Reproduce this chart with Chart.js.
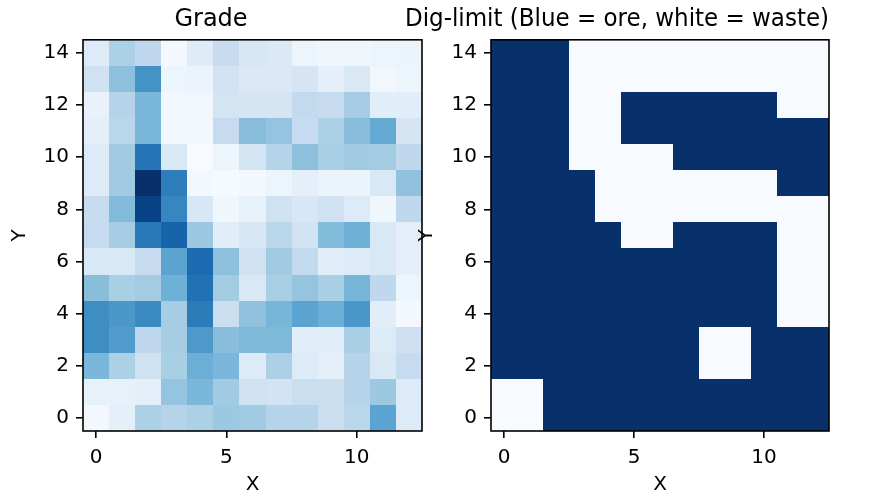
<!DOCTYPE html>
<html><head><meta charset="utf-8">
<script src="https://cdn.jsdelivr.net/npm/chart.js@4.4.1/dist/chart.umd.min.js"></script>
<style>
html,body{margin:0;padding:0;background:#fff;overflow:hidden;width:891px;height:498px;}
#wrap{position:relative;width:891px;height:498px;overflow:hidden;}
canvas{position:absolute;top:0;}
#c1{left:0;}
#c2{left:405px;}
</style></head><body>
<div id="wrap"><canvas id="c1" width="504" height="498"></canvas><canvas id="c2" width="510" height="498"></canvas></div>
<script>
// ---- data ----
const xCategories = [0,1,2,3,4,5,6,7,8,9,10,11,12];
const yCategories = [0,1,2,3,4,5,6,7,8,9,10,11,12,13,14];
const xTickLabels = [0,5,10];
const yTickLabels = [0,2,4,6,8,10,12,14];
const gradeTitle = 'Grade';
const digTitle = 'Dig-limit (Blue = ore, white = waste)';
const xAxisLabel = 'X';
const yAxisLabel = 'Y';

// grade, one row per Y value (row 0 = Y 0, bottom)
const gradeRows = [
  [0.02,0.09,0.33,0.30,0.33,0.38,0.37,0.30,0.30,0.23,0.29,0.55,0.13],
  [0.08,0.08,0.09,0.40,0.46,0.37,0.20,0.19,0.23,0.23,0.30,0.38,0.13],
  [0.46,0.33,0.20,0.34,0.50,0.46,0.13,0.33,0.13,0.09,0.30,0.15,0.25],
  [0.64,0.58,0.27,0.35,0.59,0.43,0.45,0.45,0.11,0.11,0.34,0.13,0.21],
  [0.64,0.60,0.65,0.35,0.71,0.23,0.41,0.47,0.55,0.50,0.60,0.11,0.02],
  [0.43,0.34,0.36,0.49,0.75,0.36,0.15,0.34,0.40,0.34,0.47,0.27,0.05],
  [0.15,0.15,0.25,0.55,0.77,0.42,0.20,0.37,0.26,0.11,0.13,0.15,0.09],
  [0.25,0.35,0.72,0.80,0.38,0.11,0.16,0.29,0.19,0.44,0.49,0.15,0.10],
  [0.24,0.44,0.93,0.67,0.16,0.04,0.08,0.20,0.16,0.20,0.13,0.04,0.27],
  [0.13,0.37,1.00,0.70,0.02,0.01,0.02,0.05,0.09,0.06,0.06,0.15,0.41],
  [0.13,0.37,0.74,0.15,0.00,0.05,0.18,0.30,0.42,0.34,0.37,0.36,0.27],
  [0.09,0.29,0.46,0.03,0.03,0.25,0.43,0.40,0.25,0.33,0.43,0.52,0.17],
  [0.07,0.30,0.46,0.03,0.03,0.18,0.17,0.17,0.26,0.25,0.35,0.11,0.11],
  [0.20,0.42,0.62,0.05,0.06,0.19,0.14,0.14,0.17,0.09,0.15,0.03,0.05],
  [0.13,0.33,0.27,0.02,0.12,0.24,0.16,0.14,0.05,0.04,0.04,0.05,0.06]
];

// dig-limit, 1 = ore, 0 = waste (row 0 = Y 0)
const digRows = [
  [0,0,1,1,1,1,1,1,1,1,1,1,1],
  [0,0,1,1,1,1,1,1,1,1,1,1,1],
  [1,1,1,1,1,1,1,1,0,0,1,1,1],
  [1,1,1,1,1,1,1,1,0,0,1,1,1],
  [1,1,1,1,1,1,1,1,1,1,1,0,0],
  [1,1,1,1,1,1,1,1,1,1,1,0,0],
  [1,1,1,1,1,1,1,1,1,1,1,0,0],
  [1,1,1,1,1,0,0,1,1,1,1,0,0],
  [1,1,1,1,0,0,0,0,0,0,0,0,0],
  [1,1,1,1,0,0,0,0,0,0,0,1,1],
  [1,1,1,0,0,0,0,1,1,1,1,1,1],
  [1,1,1,0,0,1,1,1,1,1,1,1,1],
  [1,1,1,0,0,1,1,1,1,1,1,0,0],
  [1,1,1,0,0,0,0,0,0,0,0,0,0],
  [1,1,1,0,0,0,0,0,0,0,0,0,0]
];

// ---- colormap (matplotlib Blues) ----
const bluesStops = ['#f7fbff','#deebf7','#c6dbef','#9ecae1','#6baed6','#4292c6','#2171b5','#08519c','#08306b'];
function hex2rgb(h){return [parseInt(h.slice(1,3),16),parseInt(h.slice(3,5),16),parseInt(h.slice(5,7),16)];}
const bluesRGB = bluesStops.map(hex2rgb);
function blues(t){
  t = Math.max(0, Math.min(1, t));
  const p = t * (bluesRGB.length - 1);
  const i = Math.min(Math.floor(p), bluesRGB.length - 2);
  const f = p - i;
  const a = bluesRGB[i], b = bluesRGB[i+1];
  return 'rgb(' + [0,1,2].map(k => Math.round(a[k] + (b[k]-a[k])*f)).join(',') + ')';
}

function toPoints(rows){
  const pts = [];
  yCategories.forEach((yv, r) => xCategories.forEach((xv, c) => pts.push({x: xv, y: yv, v: rows[r][c]})));
  return pts;
}

const heatPlugin = {
  id: 'heat',
  beforeDatasetsDraw(chart){
    const {ctx, chartArea, scales} = chart;
    const xs = scales.x, ys = scales.y;
    const data = chart.data.datasets[0].data;
    const vals = data.map(d => d.v);
    const vmin = Math.min(...vals), vmax = Math.max(...vals);
    ctx.save();
    ctx.beginPath();
    ctx.rect(chartArea.left, chartArea.top, chartArea.width, chartArea.height);
    ctx.clip();
    data.forEach(d => {
      const x0 = Math.round(xs.getPixelForValue(d.x - 0.5)), x1 = Math.round(xs.getPixelForValue(d.x + 0.5));
      const y0 = Math.round(ys.getPixelForValue(d.y + 0.5)), y1 = Math.round(ys.getPixelForValue(d.y - 0.5));
      ctx.fillStyle = blues(vmax > vmin ? (d.v - vmin) / (vmax - vmin) : 0);
      ctx.fillRect(x0, y0, x1 - x0, y1 - y0);
    });
    ctx.restore();
  },
  afterDatasetsDraw(chart){
    const {ctx, chartArea} = chart;
    ctx.save();
    ctx.strokeStyle = '#000';
    ctx.lineWidth = 1.6;
    ctx.strokeRect(chartArea.left, chartArea.top, chartArea.width, chartArea.height);
    ctx.restore();
  }
};

const FAM = '"DejaVu Sans", sans-serif';

function makeConfig(rows, titleText, yAxisWidth, yTitlePad, rightPad){
  return {
    type: 'scatter',
    data: { datasets: [{ data: toPoints(rows), pointRadius: 0, pointHoverRadius: 0 }] },
    plugins: [heatPlugin],
    options: {
      responsive: false,
      animation: false,
      events: [],
      layout: { padding: { left: 0, right: rightPad, top: 0, bottom: 0 } },
      plugins: {
        legend: { display: false },
        tooltip: { enabled: false },
        title: { display: true, text: titleText, color: '#000',
                 font: { family: FAM, size: 24, weight: 'normal', lineHeight: 1.2 },
                 padding: { top: 5.5, bottom: 5.5 } }
      },
      scales: {
        x: {
          type: 'linear', min: -0.5, max: 12.5,
          afterBuildTicks: s => { s.ticks = xTickLabels.map(v => ({ value: v })); },
          afterFit: s => { s.height = 67; },
          ticks: { color: '#000', font: { family: FAM, size: 20 }, padding: 8, maxRotation: 0, autoSkip: false },
          grid: { drawOnChartArea: false, tickLength: 7, lineWidth: 1.6, color: '#000' },
          border: { display: false },
          title: { display: true, text: xAxisLabel, color: '#000', font: { family: FAM, size: 20, lineHeight: 1.2 }, padding: { top: 0, bottom: 1 } }
        },
        y: {
          type: 'linear', min: -0.5, max: 14.5,
          afterBuildTicks: s => { s.ticks = yTickLabels.map(v => ({ value: v })); },
          afterFit: s => { s.width = yAxisWidth; },
          ticks: { color: '#000', font: { family: FAM, size: 20 }, padding: 7, autoSkip: false },
          grid: { drawOnChartArea: false, tickLength: 7, lineWidth: 1.6, color: '#000' },
          border: { display: false },
          title: { display: true, text: yAxisLabel, color: '#000', font: { family: FAM, size: 20, lineHeight: 1.2 }, padding: { top: yTitlePad, bottom: 0 } }
        }
      }
    }
  };
}

new Chart(document.getElementById('c1'), makeConfig(gradeRows, gradeTitle, 83, 7.5, 82));
new Chart(document.getElementById('c2'), makeConfig(digRows, digTitle, 86, 10, 86));
</script>
</body></html>
